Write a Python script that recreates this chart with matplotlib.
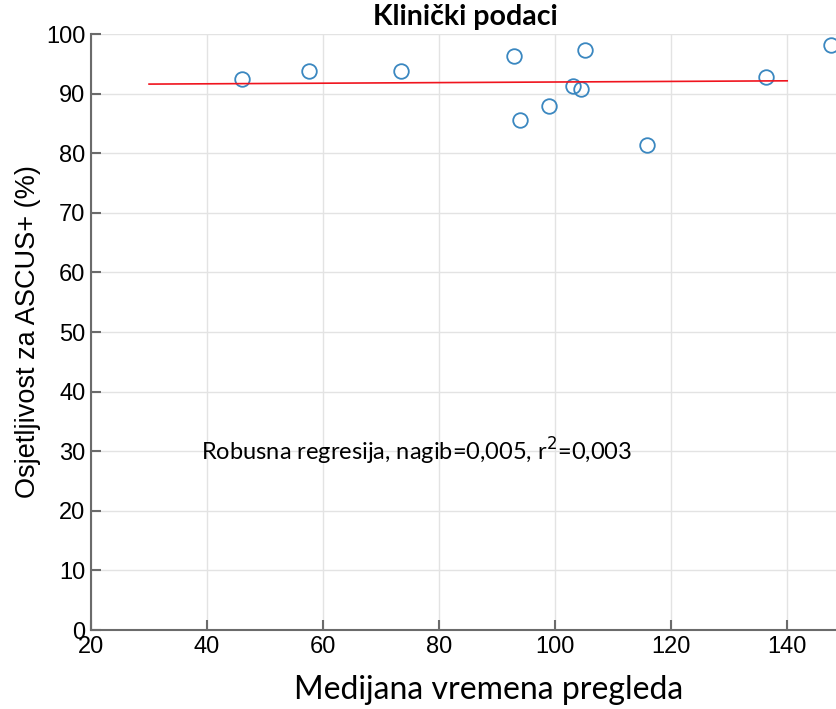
import numpy as np
import matplotlib.pyplot as plt

plt.rcParams['font.family'] = ['Liberation Sans', 'DejaVu Sans']

# podaci ocitani sa slike
vrijeme = [46.1, 57.6, 73.5, 92.9, 105.1, 93.9, 98.9, 103.0, 104.5, 115.9, 136.4, 147.6]
osjetljivost = [92.4, 93.8, 93.8, 96.3, 97.3, 85.6, 88.0, 91.3, 90.7, 81.4, 92.8, 98.2]

reg_x = [30, 140]
nagib = 0.005
odsjecak = 91.45

x_ticks = [20, 40, 60, 80, 100, 120, 140]
y_ticks = [0, 10, 20, 30, 40, 50, 60, 70, 80, 90, 100]

fig = plt.figure(figsize=(8.36, 7.09), dpi=100)
ax = fig.add_axes([0.1089, 0.1114, 0.9715, 0.8406])

ax.plot(vrijeme, osjetljivost, 'o', mfc='none', mec='#3a87c0', mew=1.3, ms=10.5, clip_on=False)
reg_y = [odsjecak + nagib * x for x in reg_x]
ax.plot(reg_x, reg_y, color='#f0141e', lw=1.2)

ax.set_xlim(20, 160)
ax.set_ylim(0, 100)
ax.set_xticks(x_ticks)
ax.set_yticks(y_ticks)
ax.grid(True, color='#e3e3e3', lw=1)
ax.set_axisbelow(True)

for s in ['top', 'right']:
    ax.spines[s].set_visible(False)
for s in ['left', 'bottom']:
    ax.spines[s].set_color('#6b6b6b')
    ax.spines[s].set_linewidth(1.5)
ax.tick_params(direction='in', length=7, width=1.5, color='#6b6b6b', labelsize=17)
ax.tick_params(axis='x', pad=4)
ax.tick_params(axis='y', pad=4)

ax.set_xlabel('Medijana vremena pregleda', fontsize=23, family='Lato', labelpad=12)
ax.xaxis.set_label_coords(0.49, -0.075)
ax.set_ylabel('Osjetljivost za ASCUS+ (%)', fontsize=19.5, labelpad=4)

ax.text(38.9, 30, 'Robusna regresija, nagib=0,005, r$^2$=0,003', fontsize=17, family='Lato',
        va='center', ha='left')
fig.text(0.557, 0.976, 'Klinički podaci', fontsize=20.5, fontweight='bold', family='Lato',
         ha='center', va='center')

fig.savefig('out.png', dpi=100)
